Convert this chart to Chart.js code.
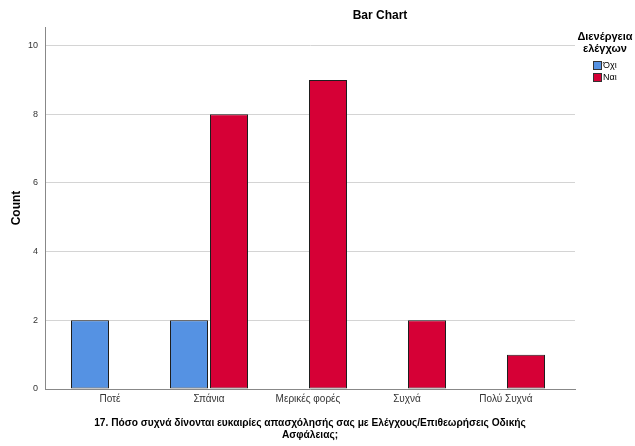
<!DOCTYPE html>
<html>
<head>
<meta charset="utf-8">
<script src="https://cdn.jsdelivr.net/npm/chart.js@4.4.0/dist/chart.umd.min.js"></script>
<style>
    html, body { margin: 0; padding: 0; background: #fff; }
    #wrap { width: 635px; height: 446px; }
</style>
</head>
<body>
<div id="wrap"><canvas id="myChart"></canvas></div>
<script>
const categories = ['Ποτέ', 'Σπάνια', 'Μερικές φορές', 'Συχνά', 'Πολύ Συχνά'];
const noValues = [2, 2, 0, 0, 0];
const yesValues = [0, 8, 9, 2, 1];
const seriesNames = ['Όχι', 'Ναι'];
const seriesColors = ['#5592e3', '#d60036'];
const yTicks = [0, 2, 4, 6, 8, 10];
const xTitle = ['17. Πόσο συχνά δίνονται ευκαιρίες απασχόλησής σας με Ελέγχους/Επιθεωρήσεις Οδικής', 'Ασφάλειας;'];
const legendTitle = ['Διενέργεια', 'ελέγχων'];

const FONT = '"Liberation Sans", Arial, sans-serif';

// title + legend drawn by hand so they sit where SPSS puts them
const extraText = {
    id: 'extraText',
    afterDraw(chart) {
        const ctx = chart.ctx;
        ctx.save();
        ctx.fillStyle = '#000';
        ctx.textAlign = 'center';
        ctx.textBaseline = 'middle';
        ctx.font = 'bold 12px ' + FONT;
        ctx.fillText('Bar Chart', 380, 16);

        ctx.font = 'bold 11px ' + FONT;
        legendTitle.forEach((t, i) => ctx.fillText(t, 605, 37 + i * 12));

        seriesNames.forEach((name, i) => {
            const y = 61 + i * 12;
            ctx.fillStyle = seriesColors[i];
            ctx.fillRect(593, y, 9, 9);
            ctx.strokeStyle = '#333';
            ctx.lineWidth = 1;
            ctx.strokeRect(593.5, y + 0.5, 8, 8);
            ctx.fillStyle = '#000';
            ctx.textAlign = 'left';
            ctx.font = '9px ' + FONT;
            ctx.fillText(name, 603, y + 5);
        });
        ctx.restore();
    }
};

const toPoints = arr => arr.map((v, i) => ({ x: i, y: v }));
const hasValue = c => !!(c.raw && c.raw.y);

function makeSet(i, values) {
    return {
        label: seriesNames[i],
        data: toPoints(values),
        backgroundColor: c => (hasValue(c) ? seriesColors[i] : 'rgba(0,0,0,0)'),
        borderColor: '#1e1e1e',
        borderWidth: c => (hasValue(c) ? 1 : 0),
        borderSkipped: false,
        inflateAmount: 0,
        categoryPercentage: 80 / 99,
        barPercentage: 0.95
    };
}

new Chart(document.getElementById('myChart'), {
    type: 'bar',
    data: {
        datasets: [makeSet(0, noValues), makeSet(1, yesValues)]
    },
    options: {
        responsive: true,
        maintainAspectRatio: false,
        animation: false,
        devicePixelRatio: 1,
        layout: { padding: { top: 27, right: 60, left: 0, bottom: 0 } },
        plugins: {
            legend: { display: false },
            tooltip: { enabled: false }
        },
        scales: {
            x: {
                type: 'linear',
                offset: false,
                min: -65 / 99,
                max: 4 + 69 / 99,
                grid: { display: false, drawTicks: false, offset: false },
                border: { display: true, color: '#888' },
                afterBuildTicks: s => { s.ticks = categories.map((c, i) => ({ value: i })); },
                afterFit: s => { s.height = 57; },
                ticks: {
                    callback: v => categories[v],
                    font: { family: FONT, size: 10 },
                    color: '#333',
                    padding: 4,
                    maxRotation: 0,
                    autoSkip: false
                },
                title: {
                    display: true,
                    text: xTitle,
                    color: '#000',
                    font: { family: FONT, size: 10.2, weight: 'bold', lineHeight: 1.25 },
                    padding: { top: 4, bottom: 4 }
                }
            },
            y: {
                min: 0,
                max: 10.54,
                grid: { color: '#d4d4d4', drawTicks: false },
                border: { display: true, color: '#888' },
                afterBuildTicks: s => { s.ticks = yTicks.map(v => ({ value: v })); },
                afterFit: s => { s.width = 45; },
                ticks: {
                    font: { family: FONT, size: 9 },
                    color: '#333',
                    padding: 7
                },
                title: {
                    display: true,
                    text: 'Count',
                    color: '#000',
                    font: { family: FONT, size: 12, weight: 'bold' },
                    padding: { top: 9, bottom: 0 }
                }
            }
        }
    },
    plugins: [extraText]
});
</script>
</body>
</html>
